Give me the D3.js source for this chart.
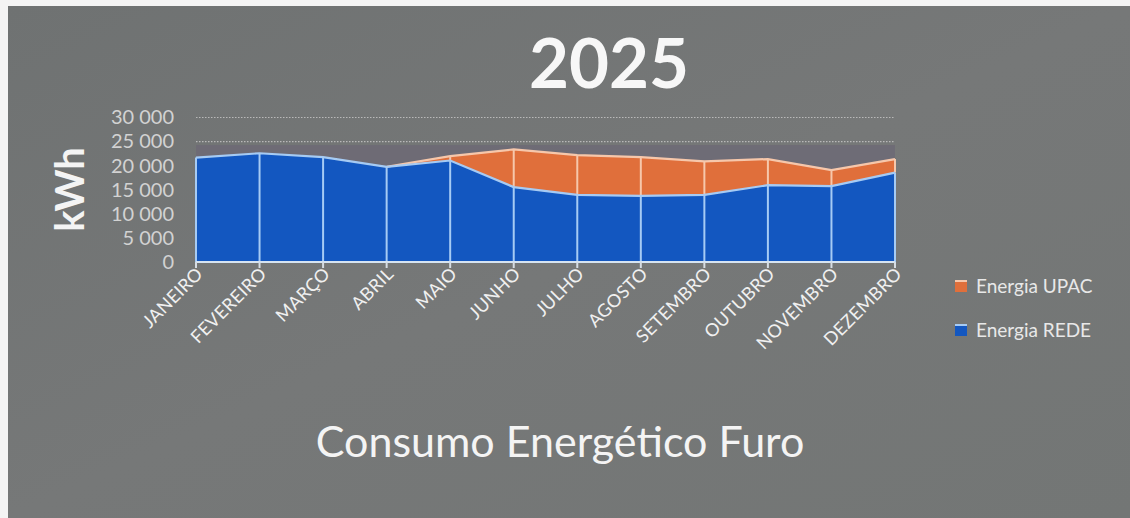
<!DOCTYPE html>
<html>
<head>
<meta charset="utf-8">
<script src="https://cdn.jsdelivr.net/npm/d3@7"></script>
<style>
  html, body { margin: 0; padding: 0; background: #ffffff; }
  svg { display: block; }
  text { font-family: Lato, "Open Sans", "DejaVu Sans", sans-serif; }
</style>
</head>
<body>
<svg id="chart" width="1130" height="518"></svg>
<script>
// Monthly energy consumption, kWh
const months = ["JANEIRO", "FEVEREIRO", "MARÇO", "ABRIL", "MAIO", "JUNHO",
                "JULHO", "AGOSTO", "SETEMBRO", "OUTUBRO", "NOVEMBRO", "DEZEMBRO"];
const energiaRede = [21600, 22500, 21700, 19700, 21000, 15500, 13900, 13700, 13900, 15900, 15700, 18500];
const energiaUpac = [0, 0, 0, 0, 900, 7800, 8200, 8000, 6900, 5400, 3300, 2800];
const yTicks = [0, 5000, 10000, 15000, 20000, 25000, 30000];
const gridValues = [25000, 30000];
const plotBandTop = 24200;
const seriesNames = ["Energia UPAC", "Energia REDE"];

const W = 1130, H = 518;
const svg = d3.select("#chart");

// page background with scanned-sheet margin
svg.append("rect").attr("width", W).attr("height", H).attr("fill", "#f4f4f4");
const bg = svg.append("defs").append("linearGradient").attr("id", "bg")
  .attr("x1", 0).attr("y1", 0).attr("x2", 1).attr("y2", 1);
bg.append("stop").attr("offset", 0).attr("stop-color", "#6f7272");
bg.append("stop").attr("offset", 0.5).attr("stop-color", "#767878");
bg.append("stop").attr("offset", 1).attr("stop-color", "#737675");
svg.append("rect").attr("x", 8).attr("y", 6).attr("width", W - 8).attr("height", H - 6)
  .attr("fill", "url(#bg)");

const x = d3.scalePoint().domain(months).range([196, 895]);
const y = d3.scaleLinear().domain([0, 30000]).range([262, 117]);

const rows = months.map((m, i) => ({ month: m, rede: energiaRede[i], upac: energiaUpac[i] }));
const stack = d3.stack().keys(["rede", "upac"]);
const layers = stack(rows);

// plot band
svg.append("rect")
  .attr("x", x(months[0])).attr("width", x(months[months.length - 1]) - x(months[0]))
  .attr("y", y(plotBandTop)).attr("height", y(0) - y(plotBandTop))
  .attr("fill", "#6d6a76").attr("opacity", 0.85);

// dotted gridlines
svg.append("g").selectAll("line").data(gridValues).join("line")
  .attr("x1", x(months[0])).attr("x2", x(months[months.length - 1]))
  .attr("y1", d => y(d) + 0.5).attr("y2", d => y(d) + 0.5)
  .attr("stroke", "#b9b9b9").attr("stroke-width", 1.2).attr("stroke-dasharray", "1.5,1.5");

const area = d3.area()
  .x(d => x(d.data.month))
  .y0(d => y(d[0]))
  .y1(d => y(d[1]));
const topLine = d3.line()
  .x(d => x(d.data.month))
  .y(d => y(d[1]));

const fills = { rede: "#1357c0", upac: "#e06f3b" };
const edges = { rede: "#a6cbf4", upac: "#f6c7ab" };

svg.append("g").selectAll("path").data(layers).join("path")
  .attr("d", area)
  .attr("fill", d => fills[d.key]);

// drop lines at each month
const drops = svg.append("g");
layers.forEach(layer => {
  drops.selectAll(null).data(layer.filter(d => d[1] > d[0])).join("line")
    .attr("x1", d => x(d.data.month)).attr("x2", d => x(d.data.month))
    .attr("y1", d => y(d[0])).attr("y2", d => y(d[1]))
    .attr("stroke", edges[layer.key]).attr("stroke-width", 2);
});

// series top edges (UPAC edge only where it rises above REDE)
const upacLayer = layers[1];
const startIdx = Math.max(0, energiaUpac.findIndex(v => v > 0) - 1);
svg.append("path").datum(upacLayer.slice(startIdx))
  .attr("d", topLine).attr("fill", "none")
  .attr("stroke", edges.upac).attr("stroke-width", 2.2);
svg.append("path").datum(layers[0])
  .attr("d", topLine).attr("fill", "none")
  .attr("stroke", edges.rede).attr("stroke-width", 2.2);

// x axis baseline and ticks
const xAxis = svg.append("g").attr("transform", `translate(0,${y(0)})`);
xAxis.append("line")
  .attr("x1", x(months[0])).attr("x2", x(months[months.length - 1]))
  .attr("stroke", "#d6e4f2").attr("stroke-width", 2);
xAxis.selectAll("line.tick").data(months).join("line").attr("class", "tick")
  .attr("x1", d => x(d)).attr("x2", d => x(d)).attr("y1", 0).attr("y2", 6)
  .attr("stroke", "#d6dde4").attr("stroke-width", 2);
xAxis.selectAll("text").data(months).join("text")
  .attr("transform", d => `translate(${x(d) + 8},${13}) rotate(-45)`)
  .attr("text-anchor", "end")
  .attr("font-size", 18)
  .attr("letter-spacing", 0.3)
  .attr("fill", "#f0f0f0")
  .text(d => d);

// y axis labels
svg.append("g").selectAll("text").data(yTicks).join("text")
  .attr("x", 174).attr("y", d => y(d)).attr("dy", "0.36em")
  .attr("text-anchor", "end").attr("font-size", 20)
  .attr("fill", "#d2d2d2")
  .text(d => d3.format(",")(d).replace(/,/g, " "));

// y axis title
svg.append("text")
  .attr("transform", `translate(84,${y(15000)}) rotate(-90)`)
  .attr("text-anchor", "middle")
  .attr("font-size", 40).attr("font-weight", 700).attr("fill", "#f4f4f4")
  .text("kWh");

// chart title
svg.append("text")
  .attr("x", 609).attr("y", 88).attr("text-anchor", "middle")
  .attr("font-size", 69).attr("font-weight", 700).attr("fill", "#f7f7f7")
  .text("2025");

// bottom caption
svg.append("text")
  .attr("x", 560).attr("y", 457).attr("text-anchor", "middle")
  .attr("font-size", 43).attr("fill", "#f4f4f4")
  .text("Consumo Energético Furo");

// legend
const legend = svg.append("g").attr("transform", "translate(955,286)");
const legendColors = [fills.upac, fills.rede];
const legendEdges = [edges.upac, edges.rede];
seriesNames.forEach((name, i) => {
  const g = legend.append("g").attr("transform", `translate(0,${i * 44})`);
  g.append("rect").attr("x", 0).attr("y", -6).attr("width", 12).attr("height", 12)
    .attr("fill", legendColors[i]);
  g.append("rect").attr("x", 0).attr("y", -6).attr("width", 12).attr("height", 2)
    .attr("fill", legendEdges[i]);
  g.append("text").attr("x", 21).attr("y", 0).attr("dy", "0.36em")
    .attr("font-size", 19).attr("fill", "#e8e8e8").text(name);
});
</script>
</body>
</html>
